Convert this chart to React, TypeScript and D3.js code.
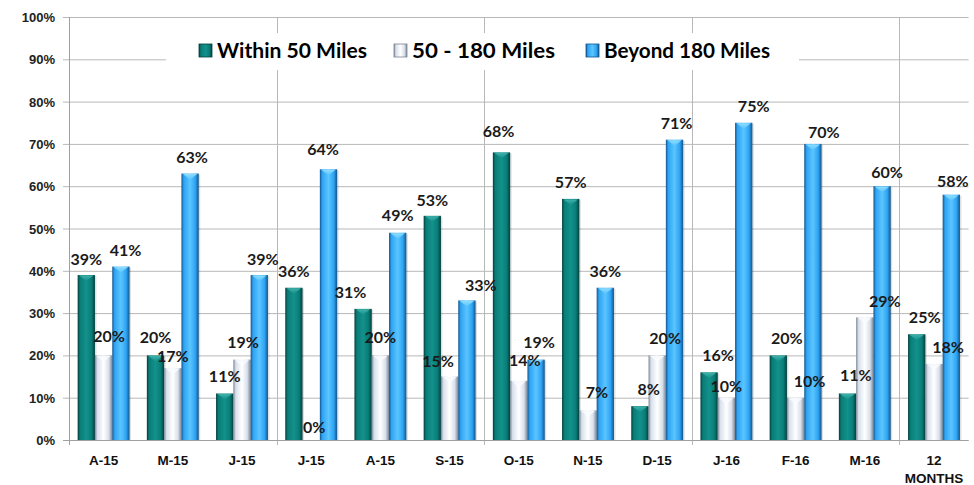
import React from "react";
import * as d3 from "d3";

const categories = ["A-15", "M-15", "J-15", "J-15 ", "A-15 ", "S-15", "O-15", "N-15", "D-15", "J-16", "F-16", "M-16", "12 MONTHS"];
const seriesNames = ["Within 50 Miles", "50 - 180 Miles", "Beyond 180 Miles"];
const within50 = [39, 20, 11, 36, 31, 53, 68, 57, 8, 16, 20, 11, 25];
const mid180 = [20, 17, 19, 0, 20, 15, 14, 7, 20, 10, 10, 29, 18];
const beyond180 = [41, 63, 39, 64, 49, 33, 19, 36, 71, 75, 70, 60, 58];
const yTicks = [0, 10, 20, 30, 40, 50, 60, 70, 80, 90, 100];

// value-label placement: horizontal nudge and gap above the bar top (px)
const labelDx = [
  [0, 0, 0, 0, -12.5, 0, -3, 0, 8.7, 9, 8.6, 8.3, 8],
  [5.5, 0, 1, 3, 0, -11.6, 6, 9, 8, 0, 14, 20, 14],
  [4.6, 2, 3.6, -5.5, 0, 14, 3, 0, 2, 10, 11, 5, 1.5],
];
const labelGap = [
  [10, 12, 11, 11, 11, 10, 15, 11, 11, 11.6, 11, 12, 11],
  [13, 6, 12, 7, 12, 10, 15, 12, 11, 6, 11, 10.6, 10.6],
  [11, 11, 10, 14, 11.6, 9, 12, 11, 11, 11, 6, 8, 8],
];

const W = 974;
const H = 485;
const left = 69;
const right = 968.6;
const top = 17;
const bottom = 440;

// gradient stops per series: edge, body, highlight, cap
const palettes = [
  { edge: "#033f3d", body: "#0a7d78", hi: "#13918b", cap: "#45b5ae" },
  { edge: "#7b8592", body: "#d8e0ec", hi: "#ffffff", cap: "#f6f8fc" },
  { edge: "#12558c", body: "#2fa4f4", hi: "#5ac5ff", cap: "#95e0ff" },
];

const legendItems = [
  { tx: 217, w: 150 },
  { tx: 412, w: 143 },
  { tx: 604, w: 166 },
];

export default function App() {
  const series = [within50, mid180, beyond180];
  const x = d3.scaleBand<string>().domain(categories).range([left, right]).paddingInner(0.25).paddingOuter(0.125);
  const xs = d3.scaleBand<number>().domain([0, 1, 2]).range([0, x.bandwidth()]).padding(0);
  const y = d3.scaleLinear().domain([0, 100]).range([bottom, top]);
  const step = x.step();
  const bw = xs.bandwidth();
  const sepX = [0, 3, 6, 9, 12].map((i) => (x(categories[i]) as number) - step * 0.125);

  const legendBox = { x0: 166, x1: 799, y0: 33, y1: 70 };

  return (
    <div style={{ position: "fixed", left: 0, top: 0 }}>
      <svg width={W} height={H} style={{ display: "block", background: "#fff" }}>
        <defs>
          {palettes.map((p, i) => (
            <linearGradient key={i} id={`g${i}`} x1="0" x2="1" y1="0" y2="0">
              <stop offset="0" stopColor={p.edge} />
              <stop offset="0.14" stopColor={p.body} />
              <stop offset="0.5" stopColor={p.hi} />
              <stop offset="0.8" stopColor={p.body} />
              <stop offset="1" stopColor={p.edge} />
            </linearGradient>
          ))}
          {palettes.map((p, i) => (
            <linearGradient key={`c${i}`} id={`c${i}`} x1="0" x2="0" y1="0" y2="1">
              <stop offset="0" stopColor={p.cap} />
              <stop offset="1" stopColor={p.hi} />
            </linearGradient>
          ))}
        </defs>

        {/* horizontal gridlines with y ticks */}
        {yTicks.map((t) => (
          <line key={t} x1={63} x2={right} y1={y(t) + 0.5} y2={y(t) + 0.5} stroke="#b8b8b8" strokeWidth={1} />
        ))}
        {/* quarterly separators */}
        {sepX.map((sx, i) => (
          <line key={i} x1={Math.round(sx) + 0.5} x2={Math.round(sx) + 0.5} y1={top} y2={bottom + 5} stroke="#b8b8b8" strokeWidth={1} />
        ))}

        {/* legend */}
        <rect x={legendBox.x0} y={legendBox.y0} width={legendBox.x1 - legendBox.x0} height={legendBox.y1 - legendBox.y0} fill="#fff" />
        {legendItems.map((it, i) => (
          <g key={i}>
            <rect x={it.tx - 18} y={44} width={13} height={13} fill={`url(#g${i})`} stroke={palettes[i].edge} strokeWidth={0.8} />
            <text
              x={it.tx}
              y={57.5}
              textLength={it.w}
              lengthAdjust="spacingAndGlyphs"
              fontFamily="Lato, 'Open Sans', sans-serif"
              fontWeight={700}
              fontSize={20}
              fill="#000"
            >
              {seriesNames[i]}
            </text>
          </g>
        ))}

        {/* bars */}
        {categories.map((c, ci) => (
          <g key={ci} transform={`translate(${x(c)},0)`}>
            {series.map((vals, si) => {
              const v = vals[ci];
              const bx = xs(si) as number;
              const by = y(v);
              const h = bottom - by;
              const cap = Math.min(6, h);
              if (h <= 0) return null;
              return (
                <g key={si}>
                  <rect x={bx + 1.5} y={by + 1} width={bw} height={h - 1} fill="#000" opacity={0.12} />
                  <rect x={bx} y={by} width={bw} height={h} fill={`url(#g${si})`} />
                  <polygon
                    points={`${bx + 1.5},${by + 0.5} ${bx + bw - 1.5},${by + 0.5} ${bx + bw / 2},${by + cap}`}
                    fill={`url(#c${si})`}
                    opacity={0.9}
                  />
                </g>
              );
            })}
          </g>
        ))}

        {/* value labels, drawn above all bars */}
        {categories.map((c, ci) => (
          <g key={ci} transform={`translate(${x(c)},0)`}>
            {series.map((vals, si) => {
              const v = vals[ci];
              const bx = xs(si) as number;
              return (
                <text
                  key={si}
                  x={bx + bw / 2 + labelDx[si][ci]}
                  y={y(v) - labelGap[si][ci]}
                  textAnchor="middle"
                  fontFamily="Lato, 'Open Sans', sans-serif"
                  fontWeight={700}
                  fontSize={16}
                  fill="#1a1a1a"
                >
                  {v}%
                </text>
              );
            })}
          </g>
        ))}

        {/* axes lines */}
        <line x1={left + 0.5} x2={left + 0.5} y1={top} y2={bottom + 5} stroke="#a0a0a0" />
        <line x1={63} x2={right} y1={bottom + 0.5} y2={bottom + 0.5} stroke="#a0a0a0" />

        {/* y labels */}
        {yTicks.map((t) => (
          <text key={t} x={55} y={y(t) + 5} textAnchor="end" fontFamily="'Liberation Sans', Arial, sans-serif" fontWeight={700} fontSize={13} fill="#222">
            {t}%
          </text>
        ))}

        {/* x labels */}
        {categories.map((c, ci) => {
          const cx = (x(c) as number) + x.bandwidth() / 2;
          const lines = c.trim().split(" ");
          return (
            <text key={ci} x={cx} textAnchor="middle" fontFamily="'Liberation Sans Narrow', 'Arial Narrow', sans-serif" fontWeight={700} fontSize={13.5} fill="#111">
              {lines.map((ln, li) => (
                <tspan key={li} x={cx} y={465 + li * 18}>
                  {ln}
                </tspan>
              ))}
            </text>
          );
        })}
      </svg>
    </div>
  );
}
